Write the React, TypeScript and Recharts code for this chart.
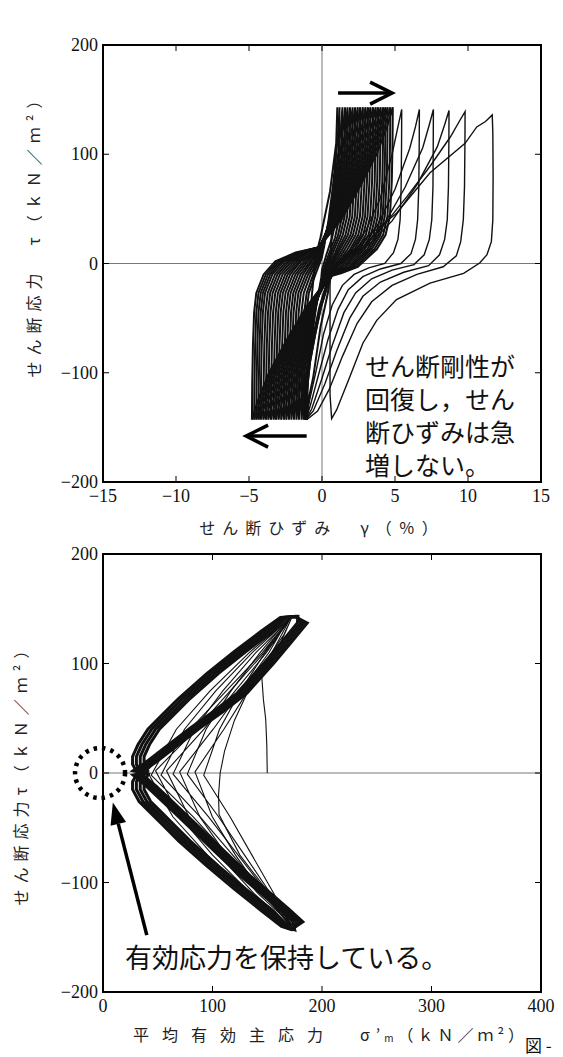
import React from 'react';
import { LineChart, Line, XAxis, YAxis, ReferenceLine, ReferenceArea, ReferenceDot } from 'recharts';

type Pt = [number, number];

// axis ticks
const gammaTicks = [-15, -10, -5, 0, 5, 10, 15];
const tauTicks = [-200, -100, 0, 100, 200];
const sigmaTicks = [0, 100, 200, 300, 400];

// ---- top: shear strain γ (%) vs shear stress τ (kN/m²) ----
// dense cycles, each: reload from the negative peak, then unload from the positive peak
const dense01: Pt[] = [[-1.05,-143],[-0.85,-120],[-0.6,-104],[-0.1,-58],[0.4,-27],[0.55,-11],[0.6,10],[0.75,50],[0.95,100],[1.05,143],[1.0,113],[0.55,66],[-0.1,24],[-0.45,5],[-0.7,-30],[-0.9,-80],[-1.05,-143]];
const dense02: Pt[] = [[-1.4,-143],[-1.38,-110],[-1.33,-75],[-1.22,-45],[-1.05,-27],[-0.6,-10],[-0.1,6],[0.1,15],[0.49,40],[0.82,70],[1.11,100],[1.3,125],[1.4,143],[1.38,110],[1.33,75],[1.2,43],[0.9,24],[0.45,8],[0.1,-6],[0,-13],[-0.42,-40],[-0.77,-70],[-1.09,-100],[-1.29,-125],[-1.4,-143]];
const dense03: Pt[] = [[-1.75,-143],[-1.73,-110],[-1.68,-75],[-1.6,-45],[-1.45,-27],[-0.95,-10],[-0.3,5],[0,14],[0.53,40],[0.96,70],[1.37,100],[1.61,125],[1.75,143],[1.73,110],[1.68,75],[1.55,43],[1.25,26],[0.75,10],[0.25,-5],[0.1,-12],[-0.46,-40],[-0.92,-70],[-1.34,-100],[-1.6,-125],[-1.75,-143]];
const dense04: Pt[] = [[-2.1,-143],[-2.08,-110],[-2.03,-75],[-1.95,-45],[-1.8,-27],[-1.3,-10],[-0.6,4],[-0.1,14],[0.56,40],[1.11,70],[1.62,100],[1.92,125],[2.1,143],[2.08,110],[2.03,75],[1.9,43],[1.6,26],[1.05,11],[0.45,-5],[0.2,-12],[-0.49,-40],[-1.07,-70],[-1.59,-100],[-1.92,-125],[-2.1,-143]];
const dense05: Pt[] = [[-2.45,-143],[-2.43,-110],[-2.38,-75],[-2.3,-45],[-2.15,-27],[-1.65,-10],[-0.9,3],[-0.15,14],[0.63,40],[1.28,70],[1.88,100],[2.24,125],[2.45,143],[2.43,110],[2.38,75],[2.25,43],[1.95,26],[1.35,12],[0.6,-5],[0.3,-12],[-0.53,-40],[-1.21,-70],[-1.85,-100],[-2.23,-125],[-2.45,-143]];
const dense06: Pt[] = [[-2.8,-143],[-2.78,-110],[-2.73,-75],[-2.65,-45],[-2.5,-27],[-2.0,-10],[-1.2,3],[-0.2,14],[0.7,40],[1.45,70],[2.14,100],[2.56,125],[2.8,143],[2.78,110],[2.73,75],[2.6,43],[2.3,26],[1.7,12],[0.8,-5],[0.35,-12],[-0.6,-40],[-1.38,-70],[-2.11,-100],[-2.55,-125],[-2.8,-143]];
const dense07: Pt[] = [[-3.15,-143],[-3.13,-110],[-3.08,-75],[-3.0,-45],[-2.85,-27],[-2.35,-10],[-1.55,2],[-0.8,9],[-0.2,15],[0.81,40],[1.64,70],[2.41,100],[2.88,125],[3.15,143],[3.13,110],[3.08,75],[2.95,43],[2.65,26],[2.05,13],[0.9,-4],[0.4,-12],[-0.67,-40],[-1.55,-70],[-2.37,-100],[-2.87,-125],[-3.15,-143]];
const dense08: Pt[] = [[-3.5,-143],[-3.48,-110],[-3.43,-75],[-3.35,-45],[-3.2,-27],[-2.7,-10],[-1.9,2],[-1.0,10],[-0.2,15],[0.91,40],[1.84,70],[2.69,100],[3.2,125],[3.5,143],[3.48,110],[3.43,75],[3.3,43],[3.0,26],[2.4,13],[1.1,-3],[0.5,-12],[-0.7,-40],[-1.7,-70],[-2.62,-100],[-3.18,-125],[-3.5,-143]];
const dense09: Pt[] = [[-3.85,-143],[-3.83,-110],[-3.78,-75],[-3.7,-45],[-3.55,-27],[-3.05,-10],[-2.25,2],[-1.2,10],[-0.2,15],[1.02,40],[2.03,70],[2.96,100],[3.53,125],[3.85,143],[3.83,110],[3.78,75],[3.65,43],[3.35,26],[2.75,13],[1.45,-3],[0.5,-12],[-0.81,-40],[-1.89,-70],[-2.89,-100],[-3.5,-125],[-3.85,-143]];
const dense10: Pt[] = [[-4.2,-143],[-4.18,-110],[-4.13,-75],[-4.05,-45],[-3.9,-27],[-3.4,-10],[-2.6,2],[-1.4,10],[-0.2,15],[1.12,40],[2.22,70],[3.23,100],[3.85,125],[4.2,143],[4.18,110],[4.13,75],[4.0,43],[3.7,26],[3.1,13],[1.8,-3],[0.5,-12],[-0.91,-40],[-2.09,-70],[-3.17,-100],[-3.82,-125],[-4.2,-143]];
const dense11: Pt[] = [[-4.5,-143],[-4.48,-110],[-4.43,-75],[-4.35,-45],[-4.2,-27],[-3.7,-10],[-2.9,2],[-1.6,10],[-0.2,15],[1.21,40],[2.39,70],[3.47,100],[4.12,125],[4.5,143],[4.48,110],[4.43,75],[4.3,43],[4.0,26],[3.4,13],[2.1,-3],[0.5,-12],[-1.0,-40],[-2.25,-70],[-3.4,-100],[-4.1,-125],[-4.5,-143]];
const dense12: Pt[] = [[-4.8,-143],[-4.78,-110],[-4.73,-75],[-4.65,-45],[-4.5,-27],[-4.0,-10],[-3.2,2],[-1.8,10],[-0.2,15],[1.32,40],[2.58,70],[3.74,100],[4.45,125],[4.85,143],[4.83,110],[4.78,75],[4.65,43],[4.35,26],[3.75,13],[2.45,-3],[1.3,-9],[0.5,-12],[-1.09,-40],[-2.42,-70],[-3.63,-100],[-4.38,-125],[-4.8,-143]];
// in-between cycles that fill the dense band
const dense13: Pt[] = [[-1.25,-143],[-1.23,-110],[-1.18,-75],[-1.07,-45],[-0.9,-27],[-0.45,-10],[0,6],[0.15,16],[0.45,40],[0.74,70],[0.98,100],[1.13,125],[1.2,143],[1.18,110],[1.13,75],[1.0,43],[0.7,24],[0.3,8],[0,-6],[-0.05,-13],[-0.41,-40],[-0.71,-70],[-0.99,-100],[-1.16,-125],[-1.25,-143]];
const dense14: Pt[] = [[-1.58,-143],[-1.56,-110],[-1.51,-75],[-1.41,-45],[-1.25,-27],[-0.78,-10],[-0.2,5],[0.05,14],[0.51,40],[0.89,70],[1.24,100],[1.45,125],[1.58,143],[1.56,110],[1.51,75],[1.38,43],[1.08,25],[0.6,9],[0.18,-5],[0.05,-12],[-0.44,-40],[-0.85,-70],[-1.21,-100],[-1.44,-125],[-1.58,-143]];
const dense15: Pt[] = [[-1.92,-143],[-1.9,-110],[-1.85,-75],[-1.77,-45],[-1.62,-27],[-1.12,-10],[-0.45,4],[-0.05,14],[0.55,40],[1.03,70],[1.49,100],[1.76,125],[1.92,143],[1.9,110],[1.85,75],[1.72,43],[1.42,26],[0.9,10],[0.35,-5],[0.15,-12],[-0.48,-40],[-1.0,-70],[-1.46,-100],[-1.76,-125],[-1.92,-143]];
const dense16: Pt[] = [[-2.27,-143],[-2.25,-110],[-2.2,-75],[-2.12,-45],[-1.97,-27],[-1.47,-10],[-0.75,3],[-0.12,14],[0.6,40],[1.2,70],[1.75,100],[2.08,125],[2.27,143],[2.25,110],[2.2,75],[2.07,43],[1.77,26],[1.2,12],[0.52,-5],[0.25,-12],[-0.51,-40],[-1.14,-70],[-1.72,-100],[-2.07,-125],[-2.27,-143]];
const dense17: Pt[] = [[-2.62,-143],[-2.6,-110],[-2.55,-75],[-2.47,-45],[-2.32,-27],[-1.82,-10],[-1.05,3],[-0.18,14],[0.66,40],[1.36,70],[2.0,100],[2.39,125],[2.62,143],[2.6,110],[2.55,75],[2.42,43],[2.12,26],[1.52,12],[0.7,-5],[0.32,-12],[-0.56,-40],[-1.29,-70],[-1.98,-100],[-2.39,-125],[-2.62,-143]];
const dense18: Pt[] = [[-2.98,-143],[-2.96,-110],[-2.91,-75],[-2.83,-45],[-2.68,-27],[-2.18,-10],[-1.38,3],[-0.2,14],[0.75,40],[1.55,70],[2.28,100],[2.72,125],[2.98,143],[2.96,110],[2.91,75],[2.78,43],[2.48,26],[1.88,12],[0.85,-5],[0.38,-12],[-0.64,-40],[-1.47,-70],[-2.24,-100],[-2.71,-125],[-2.98,-143]];
const dense19: Pt[] = [[-3.32,-143],[-3.3,-110],[-3.25,-75],[-3.17,-45],[-3.02,-27],[-2.52,-10],[-1.72,2],[-0.9,10],[-0.2,15],[0.86,40],[1.74,70],[2.55,100],[3.04,125],[3.32,143],[3.3,110],[3.25,75],[3.12,43],[2.82,26],[2.22,13],[1.0,-3],[0.45,-12],[-0.69,-40],[-1.63,-70],[-2.5,-100],[-3.03,-125],[-3.32,-143]];
const dense20: Pt[] = [[-3.68,-143],[-3.66,-110],[-3.61,-75],[-3.53,-45],[-3.38,-27],[-2.88,-10],[-2.08,2],[-1.1,10],[-0.2,15],[0.96,40],[1.93,70],[2.83,100],[3.37,125],[3.68,143],[3.66,110],[3.61,75],[3.48,43],[3.18,26],[2.58,13],[1.28,-3],[0.5,-12],[-0.75,-40],[-1.8,-70],[-2.76,-100],[-3.34,-125],[-3.68,-143]];
const dense21: Pt[] = [[-4.02,-143],[-4.0,-110],[-3.95,-75],[-3.87,-45],[-3.72,-27],[-3.22,-10],[-2.42,2],[-1.3,10],[-0.2,15],[1.07,40],[2.12,70],[3.1,100],[3.69,125],[4.02,143],[4.0,110],[3.95,75],[3.82,43],[3.52,26],[2.92,13],[1.62,-3],[0.5,-12],[-0.86,-40],[-1.99,-70],[-3.03,-100],[-3.66,-125],[-4.02,-143]];
const dense22: Pt[] = [[-4.35,-143],[-4.33,-110],[-4.28,-75],[-4.2,-45],[-4.05,-27],[-3.55,-10],[-2.75,2],[-1.5,10],[-0.2,15],[1.17,40],[2.31,70],[3.35,100],[3.99,125],[4.35,143],[4.33,110],[4.28,75],[4.15,43],[3.85,26],[3.25,13],[1.95,-3],[0.5,-12],[-0.95,-40],[-2.17,-70],[-3.28,-100],[-3.96,-125],[-4.35,-143]];
const dense23: Pt[] = [[-4.65,-143],[-4.63,-110],[-4.58,-75],[-4.5,-45],[-4.35,-27],[-3.85,-10],[-3.05,2],[-1.7,10],[-0.2,15],[1.27,40],[2.49,70],[3.6,100],[4.29,125],[4.68,143],[4.66,110],[4.61,75],[4.48,43],[4.18,26],[3.58,13],[2.28,-3],[0.5,-12],[-1.05,-40],[-2.34,-70],[-3.52,-100],[-4.24,-125],[-4.65,-143]];

// later cycles drifting to the right
const drift1: Pt[] = [[-1.2,-143],[-1.15,-115],[-0.95,-90],[-0.6,-65],[-0.2,-40],[0.3,-18],[0.8,-3],[1.3,4],[2.0,12],[3.0,30],[4.0,60],[4.8,100],[5.2,125],[5.46,141],[5.45,110],[5.42,70],[5.35,40],[5.2,22],[4.9,10],[4.3,0],[3.2,-4],[2.2,-10],[1.4,-20],[0.7,-38],[0.1,-65],[-0.4,-98],[-0.9,-128],[-1.15,-143]];
const drift2: Pt[] = [[-1.15,-143],[-1.1,-115],[-0.9,-90],[-0.55,-65],[-0.15,-40],[0.35,-18],[0.85,-3],[1.3,4],[2.5,14],[3.8,35],[5.0,68],[6.0,105],[6.4,125],[6.67,141],[6.66,110],[6.63,70],[6.55,40],[6.4,22],[6.1,9],[5.4,0],[4.0,-5],[2.8,-12],[1.8,-24],[1.1,-42],[0.4,-70],[-0.2,-100],[-0.8,-130],[-1.1,-143]];
const drift3: Pt[] = [[-1.1,-143],[-1.05,-115],[-0.85,-90],[-0.5,-65],[-0.1,-40],[0.4,-18],[0.9,-3],[1.4,4],[2.8,15],[4.3,37],[5.7,70],[6.9,106],[7.35,127],[7.63,141],[7.62,110],[7.6,70],[7.52,40],[7.35,22],[7.0,8],[6.3,-1],[4.8,-6],[3.4,-14],[2.3,-27],[1.5,-45],[0.7,-75],[0,-105],[-0.7,-133],[-1.1,-143]];
const drift4: Pt[] = [[-1.1,-143],[-1.05,-115],[-0.85,-90],[-0.5,-65],[-0.1,-40],[0.4,-18],[0.9,-3],[1.6,5],[3.2,17],[4.8,39],[6.5,72],[7.9,107],[8.4,127],[8.7,140],[8.69,110],[8.66,70],[8.58,40],[8.4,22],[8.05,8],[7.3,-2],[5.6,-8],[4.0,-17],[2.8,-30],[1.9,-50],[1.0,-80],[0.2,-110],[-0.6,-135],[-1.1,-143]];
const drift5: Pt[] = [[-1.1,-143],[-1.0,-115],[-0.8,-90],[-0.45,-65],[-0.05,-40],[0.45,-18],[1.0,-3],[1.8,5],[2.4,9],[4.0,31],[5.8,61],[7.4,89],[8.8,116],[9.4,130],[9.8,139],[9.79,110],[9.76,70],[9.68,40],[9.5,20],[9.2,7],[8.3,-3],[6.5,-10],[4.8,-20],[3.4,-35],[2.4,-55],[1.4,-85],[0.5,-115],[-0.3,-135],[-1.05,-143]];
const drift6: Pt[] = [[-1.05,-143],[-1.0,-115],[-0.8,-90],[-0.45,-65],[-0.05,-40],[0.45,-18],[1.0,-3],[2.0,8],[2.8,21],[5.1,46],[7.4,83],[9.8,110],[10.6,125],[11.2,130],[11.66,136],[11.7,120],[11.72,80],[11.7,40],[11.6,20],[11.3,8],[10.8,0.4],[9.7,-9],[7.4,-18],[5.1,-33],[3.75,-52],[2.8,-73],[1.9,-104],[1.0,-134],[0.66,-142],[0.55,-120],[0.55,-60],[0.55,-20],[0.6,-5]];

const denseLoops = [dense01, dense02, dense03, dense04, dense05, dense06, dense07, dense08, dense09, dense10, dense11, dense12,
  dense13, dense14, dense15, dense16, dense17, dense18, dense19, dense20, dense21, dense22, dense23];
const driftLoops = [drift1, drift2, drift3, drift4, drift5, drift6];

// ---- bottom: mean effective stress σ'm vs τ ----
const pathStart: Pt[] = [[150,0],[149.6,25],[148.6,49],[146.5,67],[145,88],[152,100],[161,116],[168,132],[172,141],[165,126],[150,104],[133,76],[120,48],[111,20],[107,0],[105.5,-20],[106,-38],[125,-75],[152,-110],[171,-140]];
const pathThinA: Pt[] = [[171,-140],[156,-110],[136,-75],[116,-40],[92,-2],[106.4,40],[125.6,75],[148,110],[171,141],[154.4,110],[132.4,75],[110.4,40],[84,1],[99.8,-40],[121,-75],[145.6,-110],[173,-141],[153,-110],[129.3,-75],[105.5,-40],[77,-1],[94.1,40],[116.9,75],[143.5,110],[170,142]];
const pathThinB: Pt[] = [[170,142],[151.6,110],[126.1,75],[100.6,40],[70,1],[88.4,-40],[112.8,-75],[141.4,-110],[174,-140],[150.4,-110],[123.4,-75],[96.4,-40],[64,-1],[83.4,40],[109.4,75],[139.6,110],[171,141],[149.2,110],[120.7,75],[92.2,40],[58,2],[78.5,-40],[105.9,-75],[137.8,-110],[173,-142]];
const pathThinC: Pt[] = [[173,-142],[148.2,-110],[118.5,-75],[88.7,-40],[53,-2],[74.4,40],[103,75],[136.3,110],[170,141],[147.2,110],[116.2,75],[85.2,40],[48,2],[70.3,-40],[100.1,-75],[134.8,-110],[172,-141],[146.4,-110],[114.4,-75],[82.4,-40],[44,-2],[67,40],[97.8,75],[133.6,110],[171,142],[145.6,110],[112.6,75],[79.6,40],[40,2],[63.8,-40],[95.4,-75],[132.4,-110],[173,-142]];
// last, fully liquefied cycles: thick bands
const band0: Pt[] = [[31,1],[27,8],[27,15],[32,26],[41,40],[52,51],[69,68],[95,91],[120,111],[145,130],[162,142],[175,143],[186.5,137],[172.5,120],[156.5,101],[131.5,73],[109.5,56],[88.5,41],[66.5,24],[48.5,10],[36.5,2],[31,-1],[27,-8],[27,-15],[33,-26],[43,-36],[55,-48],[69,-62],[95,-85],[120,-106],[145,-126],[163,-140],[172,-143],[182.5,-136],[169.5,-124],[154.5,-111],[134.5,-94],[111.5,-72],[88.5,-50],[66.5,-29],[48.5,-12],[36.5,-2],[31,1]];
const band1: Pt[] = [[34.5,1],[30.5,8],[30.5,15],[35.5,26],[44.5,40],[55.5,51],[72.5,68],[98.5,91],[123.5,111],[148.5,130],[164,142],[176,143],[183.5,137],[169.5,120],[153.5,101],[128.5,73],[106.5,56],[85.5,41],[63.5,24],[45.5,10],[33.5,2],[34.5,-1],[30.5,-8],[30.5,-15],[36.5,-26],[46.5,-36],[58.5,-48],[72.5,-62],[98.5,-85],[123.5,-106],[148.5,-126],[165,-140],[173,-143],[179.5,-136],[166.5,-124],[151.5,-111],[131.5,-94],[108.5,-72],[85.5,-50],[63.5,-29],[45.5,-12],[33.5,-2],[34.5,1]];
const band2: Pt[] = [[38,1],[34,8],[34,15],[39,26],[48,40],[59,51],[76,68],[102,91],[127,111],[152,130],[166,142],[177,143],[180.5,137],[166.5,120],[150.5,101],[125.5,73],[103.5,56],[82.5,41],[60.5,24],[42.5,10],[30.5,2],[38,-1],[34,-8],[34,-15],[40,-26],[50,-36],[62,-48],[76,-62],[102,-85],[127,-106],[152,-126],[167,-140],[174,-143],[176.5,-136],[163.5,-124],[148.5,-111],[128.5,-94],[105.5,-72],[82.5,-50],[60.5,-29],[42.5,-12],[30.5,-2],[38,1]];
const band3: Pt[] = [[41.5,1],[37.5,8],[37.5,15],[42.5,26],[51.5,40],[62.5,51],[79.5,68],[105.5,91],[130.5,111],[155.5,130],[168,142],[178,143],[177.5,137],[163.5,120],[147.5,101],[122.5,73],[100.5,56],[79.5,41],[57.5,24],[39.5,10],[27.5,2],[41.5,-1],[37.5,-8],[37.5,-15],[43.5,-26],[53.5,-36],[65.5,-48],[79.5,-62],[105.5,-85],[130.5,-106],[155.5,-126],[169,-140],[175,-143],[173.5,-136],[160.5,-124],[145.5,-111],[125.5,-94],[102.5,-72],[79.5,-50],[57.5,-29],[39.5,-12],[27.5,-2],[41.5,1]];

const thinPaths = [pathStart, pathThinA, pathThinB, pathThinC];
const bandPaths = [band0, band1, band2, band3];

const rows = (pts: Pt[]) => pts.map(([x, y]) => ({ x, y }));
const fmt = (v: number) => (v < 0 ? `\u2212${Math.abs(v)}` : `${v}`);
const SERIF = '"Liberation Serif", "DejaVu Serif", serif';
const GOTHIC = '"Noto Sans CJK JP", "Noto Sans", sans-serif';
const PLOT_RIGHT = 541;

// tick labels outside, tick marks inside on both opposite borders
const XTick = ({ x, y, payload, plotTop }: any) => (
  <g>
    <line x1={x} y1={y} x2={x} y2={y - 6} stroke="#000" />
    <line x1={x} y1={plotTop} x2={x} y2={plotTop + 6} stroke="#000" />
    <text x={x} y={y + 14} textAnchor="middle" dominantBaseline="central" style={{ fontFamily: SERIF, fontSize: 18 }} fill="#111">
      {fmt(payload.value)}
    </text>
  </g>
);

const YTick = ({ x, y, payload }: any) => (
  <g>
    <line x1={x} y1={y} x2={x + 6} y2={y} stroke="#000" />
    <line x1={PLOT_RIGHT - 6} y1={y} x2={PLOT_RIGHT} y2={y} stroke="#000" />
    <text x={x - 5} y={y} textAnchor="end" dominantBaseline="central" style={{ fontFamily: SERIF, fontSize: 18 }} fill="#111">
      {fmt(payload.value)}
    </text>
  </g>
);

const arrowShape = (filled: boolean) => (p: any) => {
  const { x1, y1, x2, y2 } = p;
  const len = Math.hypot(x2 - x1, y2 - y1) || 1;
  const ux = (x2 - x1) / len;
  const uy = (y2 - y1) / len;
  const hl = 22;
  const hw = filled ? 8 : 11;
  const bx = x2 - ux * hl;
  const by = y2 - uy * hl;
  const lx = bx - uy * hw;
  const ly = by + ux * hw;
  const rx = bx + uy * hw;
  const ry = by - ux * hw;
  return (
    <g>
      <line x1={x1} y1={y1} x2={filled ? bx : x2 - ux * 2} y2={filled ? by : y2 - uy * 2} stroke="#000" strokeWidth={3.5} />
      {filled ? (
        <polygon points={`${lx},${ly} ${x2},${y2} ${rx},${ry}`} fill="#000" />
      ) : (
        <polyline points={`${lx},${ly} ${x2},${y2} ${rx},${ry}`} fill="none" stroke="#000" strokeWidth={3.5} />
      )}
    </g>
  );
};

const lineProps = {
  dataKey: 'y',
  type: 'linear' as const,
  dot: false,
  activeDot: false,
  isAnimationActive: false,
  legendType: 'none' as const,
};

export default function App() {
  return (
    <div style={{ position: 'fixed', left: 0, top: 0, width: 563, height: 1057, overflow: 'hidden', background: '#fff' }}>
      <div style={{ position: 'absolute', left: 0, top: 0 }}>
        <LineChart width={563} height={540} margin={{ top: 45, right: 22, bottom: 0, left: 0 }}>
          <XAxis
            type="number"
            dataKey="x"
            domain={[-15, 15]}
            ticks={gammaTicks}
            interval={0}
            allowDataOverflow
            axisLine={false}
            tickLine={false}
            tickSize={0}
            tickMargin={0}
            height={58}
            tick={(p: any) => <XTick {...p} plotTop={45} />}
          />
          <YAxis
            type="number"
            domain={[-200, 200]}
            ticks={tauTicks}
            interval={0}
            allowDataOverflow
            axisLine={false}
            tickLine={false}
            tickSize={0}
            tickMargin={0}
            width={103}
            tick={(p: any) => <YTick {...p} />}
          />
          <ReferenceLine x={0} stroke="#777" strokeWidth={1} />
          <ReferenceLine y={0} stroke="#777" strokeWidth={1} />
          {denseLoops.map((l, i) => (
            <Line key={`d${i}`} {...lineProps} data={rows(l)} stroke="#111" strokeWidth={2} />
          ))}
          {driftLoops.map((l, i) => (
            <Line key={`r${i}`} {...lineProps} data={rows(l)} stroke="#111" strokeWidth={1.4} />
          ))}
          <ReferenceLine segment={[{ x: 1.1, y: 156 }, { x: 4.8, y: 156 }]} shape={arrowShape(false)} />
          <ReferenceLine segment={[{ x: -1.05, y: -158 }, { x: -5.2, y: -158 }]} shape={arrowShape(false)} />
          <ReferenceArea x1={-15} x2={15} y1={-200} y2={200} fill="none" stroke="#000" strokeWidth={2} />
        </LineChart>
      </div>

      <div style={{ position: 'absolute', left: 0, top: 500 }}>
        <LineChart width={563} height={557} margin={{ top: 54, right: 22, bottom: 0, left: 0 }}>
          <XAxis
            type="number"
            dataKey="x"
            domain={[0, 400]}
            ticks={sigmaTicks}
            interval={0}
            allowDataOverflow
            axisLine={false}
            tickLine={false}
            tickSize={0}
            tickMargin={0}
            height={65}
            tick={(p: any) => <XTick {...p} plotTop={54} />}
          />
          <YAxis
            type="number"
            domain={[-200, 200]}
            ticks={tauTicks}
            interval={0}
            allowDataOverflow
            axisLine={false}
            tickLine={false}
            tickSize={0}
            tickMargin={0}
            width={103}
            tick={(p: any) => <YTick {...p} />}
          />
          <ReferenceLine y={0} stroke="#777" strokeWidth={1} />
          {thinPaths.map((l, i) => (
            <Line key={`t${i}`} {...lineProps} data={rows(l)} stroke="#111" strokeWidth={1.1} />
          ))}
          {bandPaths.map((l, i) => (
            <Line key={`b${i}`} {...lineProps} data={rows(l)} stroke="#111" strokeWidth={3} />
          ))}
          <ReferenceDot x={-2.7} y={0} r={25} fill="none" stroke="#000" strokeWidth={4.5} strokeDasharray="3.5 5" ifOverflow="visible" />
          <ReferenceLine segment={[{ x: 40, y: -148 }, { x: 9, y: -27 }]} shape={arrowShape(true)} />
          <ReferenceArea x1={0} x2={400} y1={-200} y2={200} fill="none" stroke="#000" strokeWidth={2} />
        </LineChart>
      </div>

      <svg width={563} height={1057} style={{ position: 'absolute', left: 0, top: 0, pointerEvents: 'none' }}>
        {/* axis titles */}
        <text x={322} y={527} textAnchor="middle" dominantBaseline="central" fontFamily={GOTHIC} fontSize={16} letterSpacing={7} fill="#222">
          せん断ひずみ　γ（％）
        </text>
        <text transform="translate(33 232) rotate(-90)" textAnchor="middle" dominantBaseline="central" fontFamily={GOTHIC} fontSize={16} letterSpacing={6} fill="#222">
          せん断応力　τ（ｋＮ／ｍ²）
        </text>
        <text transform="translate(20 771) rotate(-90)" textAnchor="middle" dominantBaseline="central" fontFamily={GOTHIC} fontSize={16} letterSpacing={6} fill="#222">
          せん断応力τ（ｋＮ／ｍ²）
        </text>
        <text x={133} y={1034} dominantBaseline="central" fontFamily={GOTHIC} fontSize={16} fill="#222">
          <tspan letterSpacing={13}>平均有効主応力</tspan>
          <tspan x={360}>σ</tspan>
          <tspan dx={6}>’</tspan>
          <tspan dx={4} fontSize={10} dy={3}>m</tspan>
          <tspan dx={4} dy={-3} letterSpacing={4}>（ｋＮ／ｍ²）</tspan>
        </text>

        {/* annotations */}
        <svg x={0} y={0} width={PLOT_RIGHT} height={482}>
          <text fontFamily={GOTHIC} fontSize={25} fill="#111" dominantBaseline="central">
            <tspan x={365} y={365}>せん断剛性が</tspan>
            <tspan x={365} y={398}>回復し，せん</tspan>
            <tspan x={365} y={431}>断ひずみは急</tspan>
            <tspan x={365} y={464}>増しない。</tspan>
          </text>
        </svg>
        <text x={525} y={1044} dominantBaseline="central" fontFamily={GOTHIC} fontSize={17} fill="#111">
          図 -
        </text>
        <text x={125} y={956} dominantBaseline="central" fontFamily={GOTHIC} fontSize={27} fill="#111">
          有効応力を保持している。
        </text>
      </svg>
    </div>
  );
}
